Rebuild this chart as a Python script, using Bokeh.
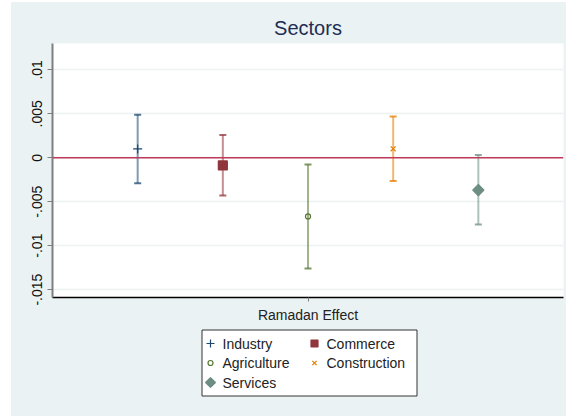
import numpy as np
from bokeh.plotting import figure
from bokeh.layouts import column
from bokeh.models import (ColumnDataSource, Range1d, FixedTicker, Span, Whisker, TeeHead)
from bokeh.core.properties import value
from bokeh.embed import file_html
from bokeh.resources import INLINE

# Point estimates and 95% confidence bounds of the Ramadan effect by sector
sectors = ["Industry", "Commerce", "Agriculture", "Construction", "Services"]
estimate = [0.0010, -0.00087, -0.00667, 0.00102, -0.00368]
ci_lower = [-0.0029, -0.0043, -0.0126, -0.00265, -0.0076]
ci_upper = [0.0049, 0.0026, -0.00076, 0.0047, 0.0003]

y_ticks = [-0.015, -0.01, -0.005, 0.0, 0.005, 0.01]
y_tick_labels = ["-.015", "-.01", "-.005", "0", ".005", ".01"]
x_label = "Ramadan Effect"

colors = ["#1a476f", "#90353b", "#55752f", "#e37e00", "#6e8e84"]
markers = ["cross", "square", "circle", "x", "square"]
angles = [0, 0, 0, 0, np.pi / 4]
sizes = [9, 9, 5, 7, 8]
legend_sizes = [8, 7, 5, 6, 7]
fills = [None, "#90353b", None, None, "#6e8e84"]

FONT = "Liberation Sans"
BG = "#eaf2f3"
FRAME_W, BORDER_L, BORDER_R = 511, 41, 3

# ---- main panel -------------------------------------------------------------
p = figure(frame_width=FRAME_W, frame_height=254, output_backend="svg", toolbar_location=None,
           x_range=Range1d(-3, 3), y_range=Range1d(-0.0159, 0.0130),
           min_border_left=BORDER_L, min_border_right=BORDER_R, min_border_top=41,
           min_border_bottom=28)
p.border_fill_color = BG
p.background_fill_color = "white"
p.outline_line_color = None

p.title.text = "Sectors"
p.title.align = "center"
p.title.text_font = FONT
p.title.text_font_size = "20px"
p.title.text_font_style = "normal"
p.title.text_color = "#1e2d53"

p.xgrid.grid_line_color = None
p.ygrid.grid_line_color = BG
p.ygrid.grid_line_width = 1.5

p.yaxis.ticker = FixedTicker(ticks=y_ticks)
p.yaxis.major_label_overrides = dict(zip(y_ticks, y_tick_labels))
p.yaxis.major_label_orientation = "vertical"
p.yaxis.major_label_text_font = FONT
p.yaxis.major_label_text_font_size = "14px"
p.yaxis.major_label_text_color = "#111111"
p.yaxis.axis_line_color = "#7f7f7f"
p.yaxis.axis_line_width = 2
p.yaxis.major_tick_line_color = "#7f7f7f"
p.yaxis.major_tick_in = 0
p.yaxis.major_tick_out = 5
p.yaxis.minor_tick_line_color = None

# one tick under the middle estimate
positions = list(np.arange(len(sectors)) - (len(sectors) - 1) / 2)
p.xaxis.ticker = FixedTicker(ticks=[0])
p.xaxis.major_label_overrides = {0: x_label}
p.xaxis.major_label_text_font = FONT
p.xaxis.major_label_text_font_size = "14px"
p.xaxis.major_label_text_color = "#222222"
p.xaxis.axis_line_color = "black"
p.xaxis.axis_line_width = 1.5
p.xaxis.major_tick_line_color = "#7f7f7f"
p.xaxis.major_tick_in = 0
p.xaxis.major_tick_out = 4
p.xaxis.minor_tick_line_color = None

p.add_layout(Span(location=0, dimension="width", line_color="#c0395a", line_width=1.6))

for i, name in enumerate(sectors):
    src = ColumnDataSource(dict(x=[positions[i]], y=[estimate[i]],
                                lo=[ci_lower[i]], hi=[ci_upper[i]]))
    c = colors[i]
    p.add_layout(Whisker(base="x", lower="lo", upper="hi", source=src, dimension="height",
                         line_color=c, line_alpha=0.55, line_width=2,
                         upper_head=TeeHead(size=7, line_color=c, line_width=2, line_alpha=0.75),
                         lower_head=TeeHead(size=7, line_color=c, line_width=2, line_alpha=0.75)))
    p.scatter("x", "y", source=src, marker=markers[i], size=sizes[i], angle=angles[i],
              line_color=c, fill_color=fills[i], line_width=1.2)

# ---- legend strip: pixel coordinates measured from the strip's left edge, y down ----
LH = 91
leg = figure(frame_width=FRAME_W, frame_height=LH, output_backend="svg", toolbar_location=None,
             x_range=Range1d(BORDER_L, BORDER_L + FRAME_W), y_range=Range1d(LH, 0),
             x_axis_type=None, y_axis_type=None,
             min_border_left=BORDER_L, min_border_right=BORDER_R,
             min_border_top=0, min_border_bottom=0)
leg.grid.visible = False
leg.outline_line_color = None
leg.background_fill_color = BG
leg.border_fill_color = BG

box_left, box_top, box_w, box_h = 190.5, 4.5, 215, 66
leg.quad(left=box_left, right=box_left + box_w, top=box_top, bottom=box_top + box_h,
         fill_color="white", line_color="#333333", line_width=1)

col_x = [199, 303]          # key centre of each legend column
row_y = [18, 37.5, 57]      # centre of each legend row
key_x = [col_x[i % 2] for i in range(len(sectors))]
key_y = [row_y[i // 2] for i in range(len(sectors))]
leg.scatter(x=key_x, y=key_y, marker=markers, size=legend_sizes, angle=angles,
            line_color=colors, fill_color=fills, line_width=1.2)
leg.text(x=[x + 12 for x in key_x], y=key_y, text=sectors,
         text_font=value(FONT), text_font_size="14px", text_color="#222222",
         text_baseline="middle", text_align="left")

layout = column(p, leg, spacing=0, margin=(2, 0, 0, 11),
                styles={"background-color": BG})
open("out.html", "w").write(file_html(layout, INLINE))
